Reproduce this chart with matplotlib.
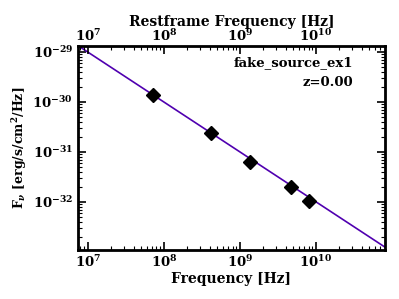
import numpy as np
import matplotlib
matplotlib.use("Agg")
import matplotlib.pyplot as plt

freq = [7.2e7, 4.2e8, 1.35e9, 4.7e9, 8.1e9]
flux = [1.38e-30, 2.4e-31, 6.3e-32, 2.0e-32, 1.05e-32]
model_norm = 1e-22
model_index = -1.0
xlim = (7.4e6, 8.1e10)
ylim = (1.1e-33, 1.3e-29)
source_name = "fake_source_ex1"
redshift = 0.00

plt.rcParams['font.family'] = ['DejaVu Serif']
plt.rcParams['font.weight'] = 'bold'
plt.rcParams['mathtext.fontset'] = 'dejavuserif'
plt.rcParams['mathtext.default'] = 'bf'

fig = plt.figure(figsize=(3.99, 2.99), dpi=100)
ax = fig.add_axes([0.195, 0.165, 0.77, 0.68])

nu = np.logspace(np.log10(xlim[0]), np.log10(xlim[1]), 200)
ax.plot(nu, model_norm * nu ** model_index, color='#5000b0', lw=1.2)
ax.plot(freq, flux, 'D', color='black', ms=7)
ax.set_xscale('log')
ax.set_yscale('log')
ax.set_xlim(*xlim)
ax.set_ylim(*ylim)
ax.set_xlabel('Frequency [Hz]', fontsize=10, fontweight='bold', labelpad=1)
ax.set_ylabel(r'F$_{\mathit{\nu}}$ [erg/s/cm$^2$/Hz]', fontsize=9, fontweight='bold', labelpad=2)
for s in ax.spines.values():
    s.set_linewidth(2)
ax.tick_params(which='both', direction='in', top=False, right=True, labelsize=9.5)
ax.tick_params(which='major', length=6, width=1.2)
ax.tick_params(which='minor', length=3, width=0.8)

ax2 = ax.twiny()
ax2.set_xscale('log')
ax2.set_xlim(xlim[0] / (1 + redshift), xlim[1] / (1 + redshift))
ax2.set_xlabel('Restframe Frequency [Hz]', fontsize=10, fontweight='bold', labelpad=2)
ax2.tick_params(which='both', direction='in', labelsize=9.5, pad=1.5)
ax2.tick_params(which='major', length=6, width=1.2)
ax2.tick_params(which='minor', length=3, width=0.8)

ax.text(0.895, 0.92, source_name, transform=ax.transAxes, ha='right', va='center', fontsize=9.5, fontweight='bold')
ax.text(0.895, 0.82, 'z=%.2f' % redshift, transform=ax.transAxes, ha='right', va='center', fontsize=9.5, fontweight='bold')

fig.savefig('out.png', dpi=100)
